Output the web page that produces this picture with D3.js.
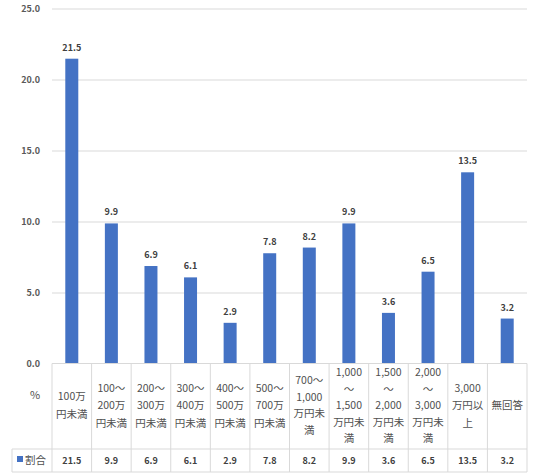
<!DOCTYPE html>
<html>
<head>
<meta charset="utf-8">
<script src="https://cdn.jsdelivr.net/npm/d3@7"></script>
<style>
body { margin: 0; background: #fff; }
text { font-family: "Noto Sans CJK JP", "DejaVu Sans", sans-serif; }
</style>
</head>
<body>
<div id="canvas"></div>
<script>
// DATA -----------------------------------------------------
var categories = [
["100万", "円未満"],
["100～", "200万", "円未満"],
["200～", "300万", "円未満"],
["300～", "400万", "円未満"],
["400～", "500万", "円未満"],
["500～", "700万", "円未満"],
["700～", "1,000", "万円未", "満"],
["1,000", "～", "1,500", "万円未", "満"],
["1,500", "～", "2,000", "万円未", "満"],
["2,000", "～", "3,000", "万円未", "満"],
["3,000", "万円以", "上"],
["無回答"]
];
var values = [21.5, 9.9, 6.9, 6.1, 2.9, 7.8, 8.2, 9.9, 3.6, 6.5, 13.5, 3.2];
var yTicks = [0, 5, 10, 15, 20, 25];
var seriesName = "割合";
var unitLabel = "%";

// STRUCTURE ------------------------------------------------
var W = 533, H = 475;
var plotLeft = 52, plotRight = 527, plotTop = 9, plotBottom = 364;
var tableBottom = 449, rowBottom = 472, tableLeft = 12;
var gridColor = "#d9d9d9";
var barColor = "#4472c4";
var textColor = "#505050";

var svg = d3.select("#canvas").append("svg")
.attr("width", W)
.attr("height", H);

var ids = d3.range(values.length);

var x = d3.scaleBand()
.domain(ids)
.range([plotLeft, plotRight])
.paddingInner(0)
.paddingOuter(0);

var y = d3.scaleLinear()
.domain([0, 25])
.range([plotBottom, plotTop]);

// grid lines
svg.append("g")
.selectAll("line")
.data(yTicks.slice(1))
.enter().append("line")
.attr("x1", plotLeft).attr("x2", plotRight)
.attr("y1", d => y(d)).attr("y2", d => y(d))
.attr("stroke", gridColor).attr("stroke-width", 1);

// y tick labels
svg.append("g")
.selectAll("text")
.data(yTicks)
.enter().append("text")
.attr("x", 40)
.attr("y", d => y(d) + 3)
.attr("text-anchor", "end")
.attr("font-size", 9)
.attr("font-weight", "bold")
.attr("fill", "#595959")
.text(d => d.toFixed(1));

// BARS -----------------------------------------------------
var barW = 13;
svg.append("g")
.selectAll("rect")
.data(values)
.enter().append("rect")
.attr("x", (d, i) => x(i) + x.bandwidth() / 2 - barW / 2)
.attr("y", d => y(d))
.attr("width", barW)
.attr("height", d => y(0) - y(d))
.attr("fill", barColor);

// data labels
svg.append("g")
.selectAll("text")
.data(values)
.enter().append("text")
.attr("x", (d, i) => x(i) + x.bandwidth() / 2)
.attr("y", d => y(d) - 8)
.attr("text-anchor", "middle")
.attr("font-size", 9)
.attr("font-weight", "bold")
.attr("fill", "#404040")
.text(d => d.toFixed(1));

// TABLE ----------------------------------------------------
var tg = svg.append("g").attr("stroke", gridColor).attr("stroke-width", 1);
tg.append("line").attr("x1", plotLeft).attr("x2", plotRight).attr("y1", plotBottom - 0.5).attr("y2", plotBottom - 0.5);
tg.append("line").attr("x1", tableLeft).attr("x2", plotRight).attr("y1", tableBottom).attr("y2", tableBottom);
tg.append("line").attr("x1", tableLeft).attr("x2", plotRight).attr("y1", rowBottom).attr("y2", rowBottom);
tg.append("line").attr("x1", tableLeft).attr("x2", tableLeft).attr("y1", tableBottom).attr("y2", rowBottom);
tg.selectAll(".v")
.data(ids.concat([values.length]))
.enter().append("line")
.attr("x1", d => (d < values.length ? x(d) : plotRight))
.attr("x2", d => (d < values.length ? x(d) : plotRight))
.attr("y1", plotBottom - 0.5)
.attr("y2", rowBottom);

// category labels
var catG = svg.append("g")
.selectAll("g")
.data(categories)
.enter().append("g");

catG.each(function (lines, i) {
var step = lines.length >= 4 ? 16.5 : 17.5;
var cy = 405;
var y0 = cy - (lines.length - 1) * step / 2;
d3.select(this).selectAll("text")
.data(lines)
.enter().append("text")
.attr("x", x(i) + x.bandwidth() / 2)
.attr("y", (t, j) => y0 + j * step + 4)
.attr("text-anchor", "middle")
.attr("font-size", 10.5)
.attr("fill", textColor)
.text(t => t);
});

// unit label
svg.append("text")
.attr("x", 35).attr("y", 399)
.attr("text-anchor", "middle")
.attr("font-size", 11)
.attr("fill", textColor)
.text(unitLabel);

// legend key + series name
svg.append("rect")
.attr("x", 17).attr("y", 456)
.attr("width", 6).attr("height", 6)
.attr("fill", barColor);
svg.append("text")
.attr("x", 25).attr("y", 464)
.attr("font-size", 10.5)
.attr("fill", textColor)
.text(seriesName);

// value row
svg.append("g")
.selectAll("text")
.data(values)
.enter().append("text")
.attr("x", (d, i) => x(i) + x.bandwidth() / 2)
.attr("y", 464)
.attr("text-anchor", "middle")
.attr("font-size", 9)
.attr("font-weight", "bold")
.attr("fill", "#404040")
.text(d => d.toFixed(1));
</script>
</body>
</html>
